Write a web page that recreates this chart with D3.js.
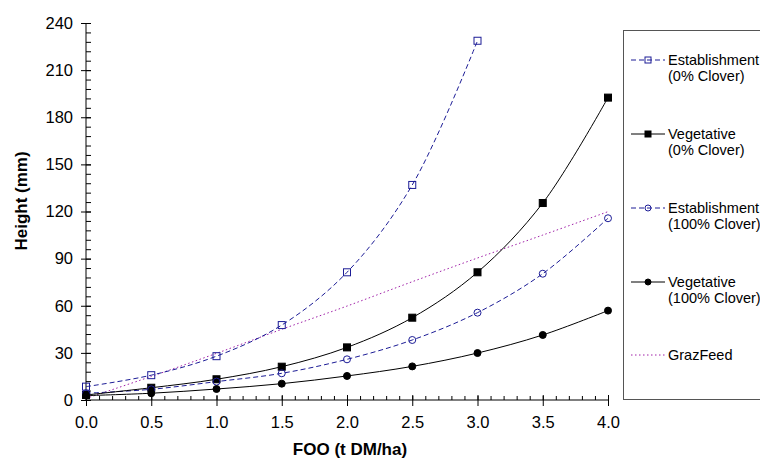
<!DOCTYPE html>
<html>
<head>
<meta charset="utf-8">
<script src="https://cdn.jsdelivr.net/npm/d3@7"></script>
<style>
  body { margin: 0; background: #fff; }
  svg { display: block; font-family: Arial, "Liberation Sans", sans-serif; }
</style>
</head>
<body>
<svg id="chart" width="760" height="469"></svg>
<script>
'use strict';

// ── Data ─────────────────────────────────────────────────────
const FOO       = [0, 0.5, 1.0, 1.5, 2.0, 2.5, 3.0, 3.5, 4.0];
const estab0    = [8.5, 15.8, 27.9, 47.7, 81.3, 136.9, 228.7];
const veg0      = [3.2, 7.8, 13.2, 21.2, 33.5, 52.4, 81.3, 125.4, 192.5];
const estab100  = [4.3, 6.8, 11.7, 17.0, 25.9, 38.2, 55.6, 80.4, 115.7];
const veg100    = [2.8, 4.3, 7.0, 10.4, 15.3, 21.4, 29.9, 41.4, 56.9];
const grazfeed  = [1.0, 15.0, 29.7, 45.0, 59.8, 75.3, 90.4, 105.0, 119.9];

const X_TICKS = [0, 0.5, 1.0, 1.5, 2.0, 2.5, 3.0, 3.5, 4.0];
const Y_TICKS = [0, 30, 60, 90, 120, 150, 180, 210, 240];

const BLUE   = '#1c1c96';
const PURPLE = '#a020a8';

const SERIES = [
  { name: ['Establishment', '(0% Clover)'],   values: estab0,   color: BLUE,   dash: '5,3', marker: 'square', fill: false },
  { name: ['Vegetative', '(0% Clover)'],      values: veg0,     color: '#000', dash: null,  marker: 'square', fill: true },
  { name: ['Establishment', '(100% Clover)'], values: estab100, color: BLUE,   dash: '5,3', marker: 'circle', fill: false },
  { name: ['Vegetative', '(100% Clover)'],    values: veg100,   color: '#000', dash: null,  marker: 'circle', fill: true },
  { name: ['GrazFeed'],                       values: grazfeed, color: PURPLE, dash: '1.5,2.5', marker: null, fill: false },
];

const FONT = 'Arial, "Liberation Sans", sans-serif';

// ── Layout ───────────────────────────────────────────────────
const svg = d3.select('#chart');
const x = d3.scaleLinear().domain([0, 4]).range([86, 608]);
const y = d3.scaleLinear().domain([0, 240]).range([400, 23]);

// ── Axes ─────────────────────────────────────────────────────
const axisG = svg.append('g');

// y axis minor ticks (every 6)
axisG.append('g').attr('transform', 'translate(86,0)')
  .call(d3.axisRight(y).tickValues(d3.range(0, 241, 6)).tickSize(5).tickFormat(''))
  .call(g => g.select('.domain').remove());
axisG.append('g').attr('transform', 'translate(86,0)')
  .call(d3.axisLeft(y).tickValues(Y_TICKS).tickSize(5).tickPadding(8).tickFormat(d3.format('d')))
  .call(g => g.selectAll('line').attr('x2', -5).attr('x1', 5))
  .call(g => g.select('.domain').attr('d', 'M0,400V23'))
  .call(g => g.selectAll('text').attr('font-size', 16.5).attr('fill', '#000').attr('font-family', FONT));

// x axis
axisG.append('g').attr('transform', 'translate(0,400)')
  .call(d3.axisTop(x).tickValues(d3.range(0, 4.01, 0.1)).tickSize(4).tickFormat(''))
  .call(g => g.select('.domain').remove());
axisG.append('g').attr('transform', 'translate(0,400)')
  .call(d3.axisBottom(x).tickValues(X_TICKS).tickSize(5).tickPadding(11).tickFormat(d3.format('.1f')))
  .call(g => g.selectAll('line').attr('y1', -5).attr('y2', 6))
  .call(g => g.select('.domain').attr('d', 'M86,0H608'))
  .call(g => g.selectAll('text').attr('font-size', 16.5).attr('fill', '#000').attr('font-family', FONT));

axisG.selectAll('line, path').attr('stroke', '#000').attr('stroke-width', 1);

// axis titles
svg.append('text')
  .attr('x', 350).attr('y', 455)
  .attr('text-anchor', 'middle')
  .attr('font-size', 17).attr('font-weight', 'bold')
  .text('FOO (t DM/ha)');
svg.append('text')
  .attr('transform', 'translate(27,201) rotate(-90)')
  .attr('text-anchor', 'middle')
  .attr('font-size', 17).attr('font-weight', 'bold')
  .text('Height (mm)');

// ── Lines & markers ──────────────────────────────────────────
const line = d3.line()
  .x(d => x(d[0])).y(d => y(d[1]))
  .curve(d3.curveCatmullRom.alpha(0.5));

function drawMarker(g, s, cx, cy, h) {
  if (s.marker === 'square') {
    g.append('rect')
      .attr('x', cx - h).attr('y', cy - h).attr('width', h * 2).attr('height', h * 2)
      .attr('fill', s.fill ? s.color : 'none').attr('stroke', s.color).attr('stroke-width', 1);
  } else if (s.marker === 'circle') {
    g.append('circle')
      .attr('cx', cx).attr('cy', cy).attr('r', h)
      .attr('fill', s.fill ? s.color : 'none').attr('stroke', s.color).attr('stroke-width', 1);
  }
}

const plotG = svg.append('g');
SERIES.slice().reverse().forEach(s => {
  const pts = s.values.map((v, i) => [FOO[i], v]);
  plotG.append('path')
    .attr('d', line(pts))
    .attr('fill', 'none')
    .attr('stroke', s.color)
    .attr('stroke-width', 1)
    .attr('stroke-dasharray', s.dash);
});
SERIES.forEach(s => {
  if (!s.marker) return;
  const g = plotG.append('g');
  s.values.forEach((v, i) => drawMarker(g, s, x(FOO[i]), y(v), 3.5));
});

// ── Legend ───────────────────────────────────────────────────
svg.append('rect')
  .attr('x', 623.5).attr('y', 30.5).attr('width', 160).attr('height', 369)
  .attr('fill', 'none').attr('stroke', '#555').attr('stroke-width', 1);

const LEG_Y = [60, 134, 208, 282, 355];
SERIES.forEach((s, i) => {
  const ly = LEG_Y[i];
  const g = svg.append('g');
  g.append('line')
    .attr('x1', 631).attr('x2', 665).attr('y1', ly).attr('y2', ly)
    .attr('stroke', s.color).attr('stroke-width', 1).attr('stroke-dasharray', s.dash);
  if (s.marker) drawMarker(g, s, 648, ly, 3);
  const t = g.append('text').attr('x', 668).attr('y', ly + 5).attr('font-size', 14.5).attr('fill', '#000');
  s.name.forEach((ln, k) => {
    t.append('tspan').attr('x', 668).attr('dy', k === 0 ? 0 : 16).text(ln);
  });
});
</script>
</body>
</html>
